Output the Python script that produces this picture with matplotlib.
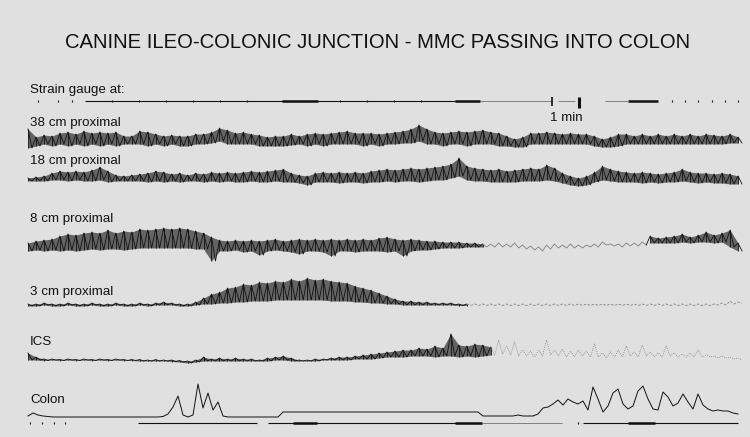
import numpy as np
import matplotlib
matplotlib.use('Agg')
import matplotlib.pyplot as plt

# chart-paper positions of the recordings are in pixels of the scanned sheet
X0, X1 = 28, 738

# deflections (px, up positive): upper / lower envelope of each recording
p38_hi = [11, 3, 5, 4, 7, 8, 6, 9, 7, 8, 7, 8, 4, 4, 9, 8, 6, 4, 5, 4,
          4, 6, 6, 8, 12, 10, 7, 8, 6, 5, 3, 4, 4, 6, 4, 6, 7, 6, 7, 8,
          9, 7, 7, 7, 6, 7, 8, 9, 11, 15, 11, 8, 7, 8, 9, 8, 9, 10, 8, 7,
          4, 1, 3, 7, 7, 8, 7, 6, 7, 6, 6, 4, 1, 3, 6, 6, 4, 6, 4, 6,
          4, 6, 4, 6, 4, 6, 5, 4, 6, 3]
p38_lo = [-8, -6, -4, -6, -4, -6, -4, -6, -4, -6, -4, -6, -4, -4, -4, -6, -4, -6, -4, -6,
          -6, -4, -4, -3, -1, -4, -4, -4, -4, -6, -6, -6, -6, -5, -4, -6, -4, -6, -4, -4,
          -4, -4, -6, -4, -6, -4, -4, -3, -3, -1, -4, -4, -6, -4, -4, -6, -4, -4, -4, -6,
          -6, -7, -7, -4, -4, -4, -4, -4, -4, -4, -4, -6, -7, -7, -6, -4, -4, -4, -4, -4,
          -4, -4, -4, -4, -4, -4, -4, -4, -3, -3]

p18_hi = [0, 1, 2, 5, 7, 6, 7, 6, 8, 11, 7, 3, 2, 3, 4, 5, 7, 6, 4, 5,
          3, 5, 4, 6, 5, 6, 5, 6, 7, 6, 7, 8, 9, 5, 3, 2, 5, 6, 5, 6,
          5, 6, 5, 7, 8, 9, 8, 9, 10, 9, 10, 11, 12, 14, 20, 12, 10, 9, 8, 9,
          7, 8, 9, 10, 9, 13, 10, 5, 2, 0, 2, 6, 12, 9, 7, 6, 5, 6, 5, 4,
          5, 6, 9, 6, 5, 5, 4, 5, 4, 2]
p18_lo = [-3, -3, -3, -2, -2, -3, -2, -3, -3, -2, -4, -3, -3, -3, -3, -4, -3, -4, -3, -4,
          -3, -3, -4, -3, -4, -3, -4, -4, -3, -4, -4, -3, -4, -4, -5, -7, -4, -4, -4, -5,
          -4, -4, -5, -4, -4, -3, -4, -3, -3, -4, -3, -2, -2, 0, 2, -2, -3, -3, -4, -4,
          -4, -4, -3, -3, -3, -2, -3, -5, -7, -8, -7, -4, -2, -3, -4, -4, -4, -5, -4, -5,
          -4, -4, -3, -4, -5, -4, -5, -5, -6, -6]

p8_hi = [2, 4, 5, 6, 9, 11, 10, 12, 13, 12, 15, 12, 14, 13, 16, 15, 16, 17, 16, 17,
         16, 14, 12, 8, 5, 4, 5, 4, 5, 4, 5, 6, 4, 5, 6, 5, 6, 5, 6, 5,
         6, 5, 6, 5, 7, 8, 6, 5, 6, 5, 4, 4, 3, 3, 3, 2, 2, 1, 1, 2,
         1, 2, 0, -1, -2, 0, 1, 0, 1, 0, 0, 1, 3, 1, 1, 2, 2, 3, 9, 7,
         8, 9, 11, 8, 10, 13, 10, 12, 15, 2]
p8_lo = [-6, -5, -6, -5, -6, -5, -6, -5, -4, -5, -4, -4, -5, -4, -3, -3, -3, -3, -3, -3,
         -3, -4, -4, -16, -6, -6, -5, -7, -6, -10, -6, -5, -6, -7, -9, -6, -6, -7, -11, -6,
         -6, -7, -6, -6, -6, -7, -6, -11, -6, -5, -5, -4, -3, -3, -3, -2, -2, -2, -2, -2,
         -2, -3, -4, -5, -6, -4, -3, -3, -3, -3, -2, -2, 0, -1, -2, -1, -1, 0, 2, 2,
         2, 2, 3, 2, 3, 3, 2, 3, -2, -6]

p3_hi = [1, 1, 2, 1, 1, 2, 1, 1, 2, 1, 1, 2, 1, 1, 2, 1, 2, 3, 2, 1,
         1, 3, 7, 11, 13, 17, 18, 21, 20, 23, 22, 24, 23, 26, 24, 27, 25, 26, 24, 23,
         22, 19, 17, 15, 12, 9, 6, 4, 4, 3, 3, 2, 2, 2, 1, 1, 1, 1, 1, 1,
         1, 1, 1, 1, 1, 1, 1, 1, 1, 1, 1, 1, 1, 1, 1, 1, 1, 1, 1, 1,
         1, 1, 1, 1, 1, 1, 1, 2, 4, 3]
p3_lo = [-1, -1, 0, -1, -1, 0, -1, -1, 0, -1, -1, 0, -1, -1, 0, -1, 0, 0, 0, -1,
         -1, 0, 1, 1, 2, 2, 3, 3, 4, 4, 4, 5, 5, 5, 5, 5, 5, 5, 4, 4,
         4, 3, 3, 2, 2, 1, 1, 0, 0, 0, 0, 0, 0, 0, -0.5, -0.5, -0.5, -0.5, -0.5, -0.5,
         -0.5, -0.5, -0.5, -0.5, -0.5, -0.5, -0.5, -0.5, -0.5, -0.5, -0.5, -0.5, -0.5, -0.5, -0.5, -0.5, -0.5, -0.5, -0.5, -0.5,
         -0.5, -0.5, -0.5, -0.5, -0.5, -0.5, 0, 0, 1, 2]

ics_hi = [7, 3, 1, 1, 0.5, 1, 0.5, 1, 0.5, 1, 0.5, 1, 0.5, 0.5, 0.5, 0, 0.5, 0, 0, -0.5,
          -1, 0, 3, 1, 2, 1, 2, 1, 1, 0, 2, 3, 4, 2, 0, 0, 1, 1, 2, 3,
          3, 4, 5, 6, 7, 8, 9, 10, 10, 12, 11, 14, 12, 26, 15, 14, 16, 15, 13, 20,
          14, 18, 10, 9, 10, 20, 10, 11, 9, 10, 9, 16, 7, 8, 10, 14, 8, 15, 8, 7,
          14, 7, 6, 7, 10, 5, 4, 4, 3, 2]
ics_lo = [0, 0, -0.5, 0, -0.5, 0, -0.5, 0, -0.5, 0, -0.5, 0, -0.5, -0.5, -1, -1, -1, -1, -1.5, -2,
          -3, -2, -1, -1, -1, -1, -1, -1, -1, -1, -1, 0, 0, -1, -1, -1, -1, 0, 0, 0,
          0, 1, 1, 1, 2, 3, 3, 3, 4, 4, 4, 3, 4, 4, 3, 4, 3, 4, 5, 6,
          5, 4, 4, 3, 4, 5, 4, 3, 3, 4, 3, 3, 2, 3, 3, 4, 3, 4, 3, 3,
          4, 3, 3, 3, 3, 3, 2, 2, 1, 0]

# colon: single pen line, one reading every 5 px
colon = [1, 4, 2, 1, 0.5,
         0, 0, 0, 0, 0, 0, 0, 0, 0, 0, 0, 0, 0, 0, 0, 0, 0, 0, 0, 0, 0,
         0, 0.5, 3, 10, 21, 2, 0, 2, 33, 9, 24, 7, 15, 1,
         0, 0, 0, 0, 0, 0, 0, 0, 0, 0, 0,
         5, 5, 5, 5, 5, 5, 5, 5, 5, 5, 5, 5, 5, 5, 5, 5, 5, 5, 5, 5,
         5, 5, 5, 5, 5, 5, 5, 5, 5, 5, 5, 5, 5, 5, 5, 5, 5, 5, 5, 5,
         1, 1, 1, 1, 1, 1, 1, 2, 1, 1, 1, 3,
         9, 10, 13, 17, 12, 18, 15, 13, 16, 7, 30, 18, 5, 11, 24, 28, 13, 8, 11, 26,
         31, 18, 8, 7, 25, 20, 11, 14, 23, 15, 8, 23, 12, 8, 6, 7, 6, 6, 4, 3]

# event marker pen (top) and time marker pen (under colon)
top_solid = [(85, 480)]
top_thick = [(282, 318), (455, 480), (628, 658)]
top_faint = [(480, 552), (558, 575), (605, 628)]
top_dots = [38, 58, 72, 112, 139, 166, 193, 220, 247, 340, 367, 394, 421,
            672, 685, 698, 712, 725, 738]
min_ticks = [552, 579]

bot_solid = [(138, 257), (268, 482), (583, 738)]
bot_thick = [(293, 317), (455, 482), (628, 655)]
bot_faint = [(482, 562)]
bot_dots = [30, 42, 54, 65, 578]

BG = '#e0e0e0'
INK = '#111111'
BAND = '#2a2a2a'
FAINT = '#808080'

plt.rcParams['font.family'] = ['Liberation Sans', 'DejaVu Sans']

fig = plt.figure(figsize=(7.5, 4.37), dpi=100, facecolor=BG)
ax = fig.add_axes([0, 0, 1, 1])
ax.set_facecolor(BG)
ax.set_xlim(0, 750)
ax.set_ylim(437, 0)
ax.axis('off')


def band(x, hi, lo, base):
    # dense pen oscillation: dark band between the envelopes, strokes on top
    ax.fill_between(x, base - hi, base - lo, color=BAND, alpha=0.68, lw=0)
    ax.vlines(x, base - hi, base - lo, color=INK, lw=0.6)


def draw_trace(hi, lo, base, faint=None):
    hi = np.asarray(hi, float)
    lo = np.asarray(lo, float)
    x = np.linspace(X0, X1, len(hi))
    dx = x[1] - x[0]
    xs = np.column_stack((x, x + dx / 2)).ravel()
    ys = base - np.column_stack((hi, lo)).ravel()
    if faint is None:
        band(x, hi, lo, base)
        ax.plot(xs, ys, color=INK, lw=0.6)
        return
    a, b, ls = faint
    band(x[:a + 1], hi[:a + 1], lo[:a + 1], base)
    a, b = 2 * a, 2 * b + 2
    ax.plot(xs[:a + 1], ys[:a + 1], color=INK, lw=0.6)
    ax.plot(xs[a:b], ys[a:b], color=FAINT, lw=0.6, ls=ls)
    if b < len(xs):
        k = b // 2
        band(x[k:], hi[k:], lo[k:], base)
        ax.plot(xs[b - 1:], ys[b - 1:], color=INK, lw=0.6)


draw_trace(p38_hi, p38_lo, 140)
draw_trace(p18_hi, p18_lo, 178)
draw_trace(p8_hi, p8_lo, 245, faint=(57, 77, '-'))
draw_trace(p3_hi, p3_lo, 305, faint=(55, 89, (0, (3, 2))))
draw_trace(ics_hi, ics_lo, 360, faint=(58, 89, (0, (1, 1.5))))

xc = np.linspace(X0, X1, len(colon))
ax.plot(xc, 417 - np.asarray(colon), color=INK, lw=0.7)

# marker pens
for y, solid, thick, faint, dots in [(101, top_solid, top_thick, top_faint, top_dots),
                                     (423, bot_solid, bot_thick, bot_faint, bot_dots)]:
    for s, e in solid:
        ax.plot([s, e], [y, y], color=INK, lw=0.8, solid_capstyle='butt')
    for s, e in thick:
        ax.plot([s, e], [y, y], color=INK, lw=1.8, solid_capstyle='butt')
    for s, e in faint:
        ax.plot([s, e], [y, y], color=FAINT, lw=0.7, solid_capstyle='butt')
    ax.plot(dots, [y] * len(dots), ls='none', marker='|', ms=2, mew=0.8, color=INK)

ax.vlines(min_ticks, [97, 97], [106, 108], color=INK, lw=[1.2, 2.2])
ax.text(np.mean(min_ticks) + 1, 118, '1 min', ha='center', va='center', fontsize=9.6, color=INK)

ax.text(378, 42, 'CANINE ILEO-COLONIC JUNCTION - MMC PASSING INTO COLON',
        ha='center', va='center', fontsize=14.6, color=INK)

labels = ['Strain gauge at:', '38 cm proximal', '18 cm proximal', '8 cm proximal',
          '3 cm proximal', 'ICS', 'Colon']
label_y = [90, 123, 161, 219, 292, 342, 400]
for txt, y in zip(labels, label_y):
    ax.text(30, y, txt, ha='left', va='center', fontsize=9.6, color=INK)

fig.savefig('out.png', dpi=100, facecolor=BG)
